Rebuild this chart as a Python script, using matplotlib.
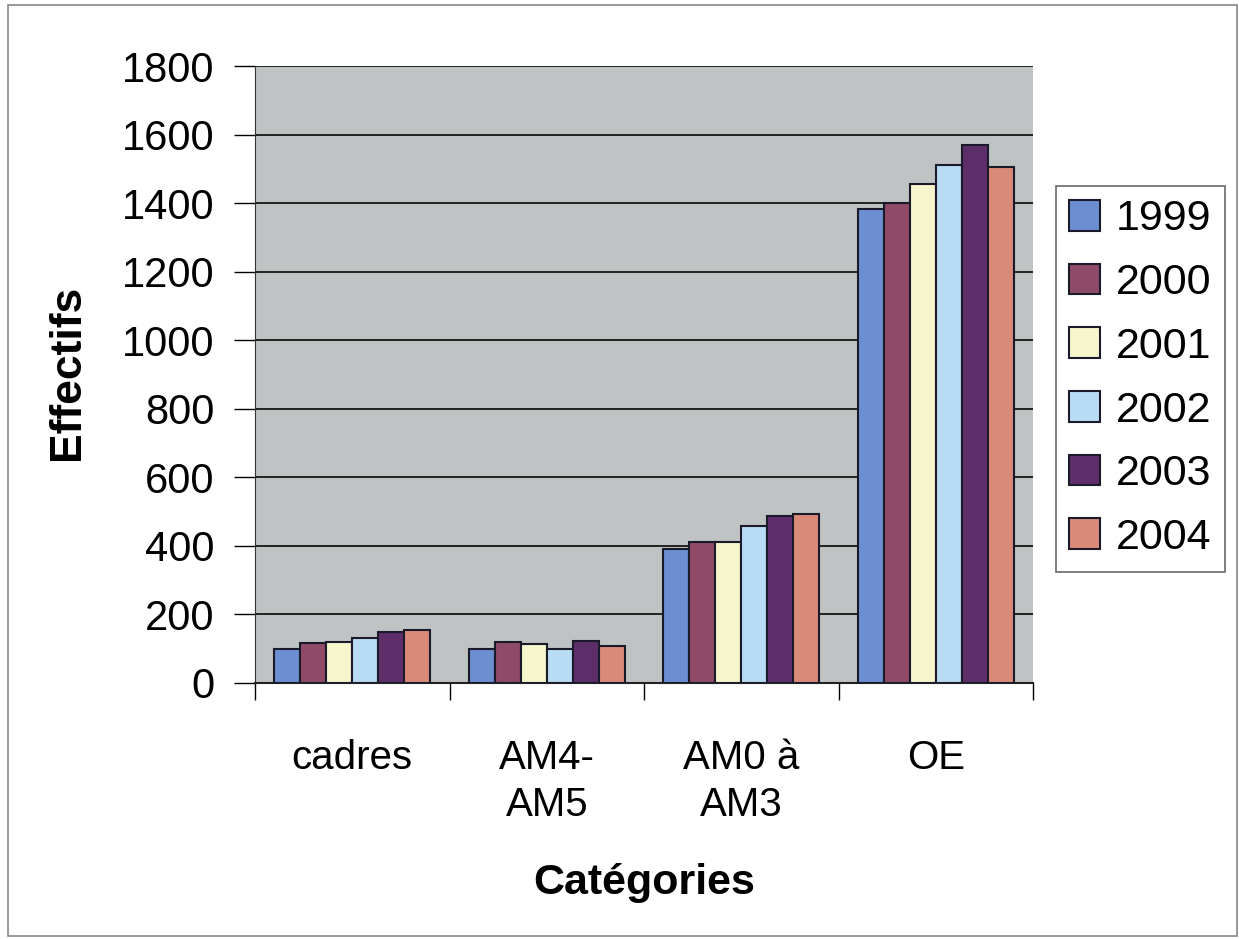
import numpy as np
import matplotlib
matplotlib.use('Agg')
import matplotlib.pyplot as plt
from matplotlib.patches import Rectangle

plt.rcParams['font.family'] = ['Liberation Sans', 'DejaVu Sans']

# Données
categories = ['cadres', 'AM4-\nAM5', 'AM0 à\nAM3', 'OE']
annees = ['1999', '2000', '2001', '2002', '2003', '2004']
v1999 = [100, 100, 390, 1383]
v2000 = [117, 120, 412, 1400]
v2001 = [120, 115, 410, 1455]
v2002 = [131, 100, 459, 1511]
v2003 = [149, 122, 488, 1570]
v2004 = [155, 108, 493, 1506]
series = [v1999, v2000, v2001, v2002, v2003, v2004]
couleurs = ['#6b8fd0', '#8e4a66', '#f7f5cc', '#b9dcf5', '#5e2e6a', '#d98a78']

fig = plt.figure(figsize=(12.39, 9.39), dpi=100)
ax = fig.add_axes([255/1239, 1 - 683/939, (1033-255)/1239, (683-66)/939])
ax.set_facecolor('#c0c3c3')

x = np.arange(len(categories))
w = 0.134
for i, (vals, c) in enumerate(zip(series, couleurs)):
    ax.bar(x + (i - 2.5) * w, vals, w, color=c, edgecolor='#1a1a2a',
           linewidth=1.5, label=annees[i], zorder=3)

ax.set_xlim(-0.5, 3.5)
ax.set_ylim(0, 1800)
ax.set_yticks(np.arange(0, 1801, 200))
ax.grid(axis='y', color='#222222', linewidth=1.4, zorder=1)

ax.set_xticks(x)
ax.set_xticklabels(categories, fontsize=29, linespacing=1.3)
ax.set_xticks(np.arange(-0.5, 4, 1), minor=True)
ax.tick_params(axis='x', which='major', length=0, pad=40)
ax.tick_params(axis='x', which='minor', length=12, width=1, direction='out')
ax.tick_params(axis='y', labelsize=30, length=15, width=1, pad=14)
for s in ['top', 'right']:
    ax.spines[s].set_visible(False)
ax.spines['left'].set_color('#333333')
ax.spines['bottom'].set_color('#222222')
ax.spines['bottom'].set_linewidth(1.5)

ax.set_xlabel('Catégories', fontsize=31, fontweight='bold', va='top')
ax.xaxis.set_label_coords(0.5, -0.292)
ax.set_ylabel('Effectifs', fontsize=32, fontweight='bold')
ax.yaxis.set_label_coords(-0.215, 0.504)

leg = ax.legend(loc='upper left', bbox_to_anchor=(1.029, 0.806), fontsize=31,
                frameon=True, fancybox=False, edgecolor='#444444',
                handlelength=0.72, handleheight=0.72, handletextpad=0.35,
                labelspacing=0.55, borderpad=0.32, borderaxespad=0)
leg.get_frame().set_linewidth(1.2)

fig.patches.append(Rectangle((8/1239, 0.003), 1 - 10/1239, 1 - 8/939,
                             transform=fig.transFigure, fill=False,
                             edgecolor='#888888', linewidth=1.2))

fig.savefig('out.png', dpi=100)
